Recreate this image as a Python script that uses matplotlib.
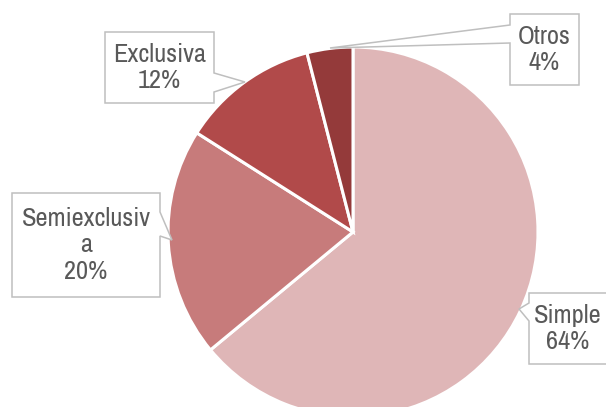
import matplotlib
matplotlib.use("Agg")
import matplotlib.pyplot as plt
from matplotlib.patches import Polygon
from matplotlib import font_manager

categories = ["Simple", "Semiexclusiva", "Exclusiva", "Otros"]
values = [64, 20, 12, 4]
label_texts = ["Simple\n64%", "Semiexclusiv\na\n20%", "Exclusiva\n12%", "Otros\n4%"]
colors = ["#DFB6B7", "#C77B7B", "#B14A4A", "#943A3A"]

W, H = 606, 407
CX, CY, R = 353, 232, 185

names = sorted({f.name for f in font_manager.fontManager.ttflist})
narrow = [n for n in names if "Narrow" in n or "Condensed" in n]
main_font = narrow[0] if narrow else "Liberation Sans"

fig = plt.figure(figsize=(W / 100, H / 100), dpi=100)
ax = fig.add_axes([0, 0, 1, 1])

ax.pie(values, colors=colors, startangle=90, counterclock=False, radius=1,
       wedgeprops=dict(edgecolor="white", linewidth=2.2))
ax.set_aspect("auto")
ax.set_xlim(-CX / R, (W - CX) / R)
ax.set_ylim((CY - H) / R, CY / R)
ax.axis("off")


def px(x, y):
    return ((x - CX) / R, (CY - y) / R)


# callout layouts: box (x0, y0, x1, y1), side of pointer, pointer base (p0, p1), tip
callouts = [
    ((529, 293, 612, 364), "left", (303, 321), (519, 309)),
    ((12, 193, 160, 297), "right", (212, 236), (172, 240)),
    ((105, 32, 214, 103), "right", (73, 92), (245, 82)),
    ((510, 14, 579, 85), "left", (25, 43), (330, 48)),
]

font = [main_font, "DejaVu Sans"]
fsize = 19 if narrow else 14.5
for text, (box, side, (p0, p1), tip) in zip(label_texts, callouts):
    x0, y0, x1, y1 = box
    if side == "right":
        pts = [(x0, y0), (x1, y0), (x1, p0), tip, (x1, p1), (x1, y1), (x0, y1)]
    else:
        pts = [(x0, y0), (x1, y0), (x1, y1), (x0, y1), (x0, p1), tip, (x0, p0)]
    poly = Polygon([px(*p) for p in pts], closed=True, facecolor="white",
                   edgecolor="#BFBFBF", linewidth=1.1, zorder=5)
    ax.add_patch(poly)
    tx, ty = px((x0 + min(x1, W)) / 2, (y0 + y1) / 2)
    ax.text(tx, ty, text, ha="center", va="center", fontsize=fsize, color="#595959",
            family=font, linespacing=1.17, zorder=6)

fig.savefig("out.png", dpi=100)
